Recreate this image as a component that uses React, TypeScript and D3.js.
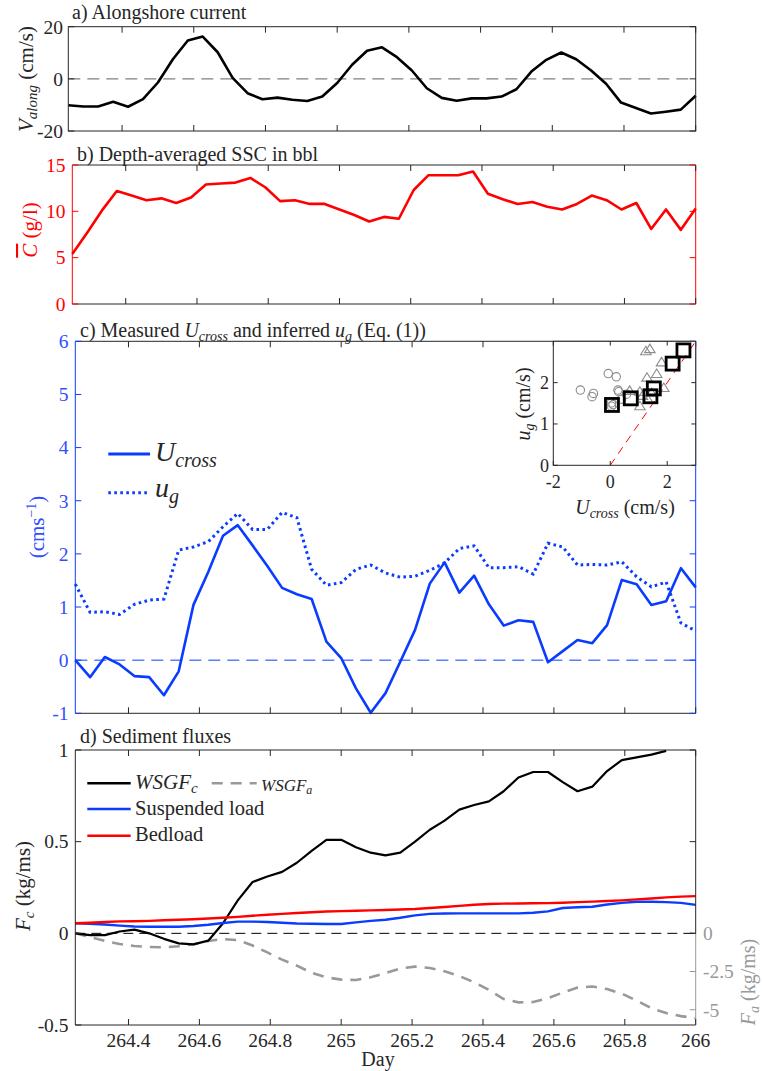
import React from 'react';
import * as d3 from 'd3';

const FONT = "'Liberation Serif', 'Times New Roman', serif";
const AX = '#262626';
const BLUE = '#0a3cff';
const BLUE_TXT = '#2f4fff';
const RED = '#ff0000';
const GRAY = '#999999';

// hourly samples from day 264.25
const hours = d3.range(43);
const days = hours.map((h) => 264.25 + h / 24);
const dayTicks = [264.4, 264.6, 264.8, 265, 265.2, 265.4, 265.6, 265.8, 266];
const dayTickLabels = ['264.4', '264.6', '264.8', '265', '265.2', '265.4', '265.6', '265.8', '266'];

// a) alongshore current (cm/s)
const vAlong = [-10.1, -10.6, -10.6, -8.8, -10.7, -7.8, -1.4, 7.5, 14.7, 16.2, 10.2, 0.4, -5.5, -7.8, -7.2, -8.0, -8.5, -6.8, -1.6, 5.4, 10.8, 12.1, 8.3, 3.2, -3.6, -7.3, -8.4, -7.5, -7.5, -6.8, -4.0, 2.8, 7.3, 10.1, 7.5, 3.2, -1.9, -9.1, -11.2, -13.3, -12.6, -11.8, -6.5];
const aTicks = [-20, 0, 20];

// b) depth-averaged SSC (g/l)
const ssc = [5.4, 7.7, 10.1, 12.2, 11.7, 11.2, 11.4, 10.9, 11.5, 12.9, 13.0, 13.1, 13.6, 12.6, 11.1, 11.2, 10.8, 10.8, 10.2, 9.6, 8.9, 9.4, 9.2, 12.3, 13.9, 13.9, 13.9, 14.3, 11.9, 11.3, 10.8, 11.0, 10.5, 10.2, 10.8, 11.7, 11.2, 10.2, 10.9, 8.1, 10.2, 8.0, 10.3];
const bTicks = [0, 5, 10, 15];

// c) U_cross and u_g (cm/s)
const uCross = [0, -0.32, 0.06, -0.08, -0.3, -0.32, -0.66, -0.21, 1.04, 1.66, 2.34, 2.54, 2.16, 1.77, 1.36, 1.24, 1.15, 0.35, 0.04, -0.53, -0.99, -0.62, -0.03, 0.57, 1.44, 1.84, 1.27, 1.59, 1.05, 0.65, 0.75, 0.72, -0.04, 0.17, 0.38, 0.32, 0.66, 1.51, 1.43, 1.04, 1.11, 1.73, 1.37];
const uG = [1.43, 0.9, 0.91, 0.86, 1.05, 1.13, 1.15, 2.07, 2.13, 2.23, 2.51, 2.76, 2.46, 2.46, 2.78, 2.68, 1.71, 1.41, 1.46, 1.71, 1.79, 1.64, 1.56, 1.58, 1.69, 1.83, 2.10, 2.15, 1.74, 1.74, 1.76, 1.62, 2.2, 2.13, 1.79, 1.8, 1.79, 1.85, 1.57, 1.38, 1.47, 0.70, 0.55];
const cTicks = [-1, 0, 1, 2, 3, 4, 5, 6];

// inset scatter
const sqU = [0.06, 0.72, 1.41, 1.53, 2.19, 2.57];
const sqUg = [1.46, 1.62, 1.67, 1.86, 2.46, 2.78];
const ciU = [-1.05, -0.59, -0.64, -0.07, 0.21, 0.27, 0.04, 0.04, 0.39, 0.57, 0.1, 0.3];
const ciUg = [1.82, 1.74, 1.66, 2.22, 2.14, 1.82, 1.51, 1.43, 1.6, 1.72, 1.47, 1.78];
const trU = [1.25, 1.39, 1.8, 1.63, 1.29, 1.88, 1.04, 1.13, 1.33, 1.04, 0.68, 1.45];
const trUg = [2.76, 2.81, 2.49, 2.21, 2.12, 1.87, 1.78, 1.68, 1.58, 1.43, 1.8, 1.75];
const insetXTicks = [-2, 0, 2];
const insetYTicks = [0, 1, 2];

// d) sediment fluxes (kg/ms)
const wsgfC = [0, -0.01, -0.01, 0.01, 0.02, 0, -0.03, -0.055, -0.06, -0.04, 0.055, 0.18, 0.28, 0.31, 0.335, 0.385, 0.45, 0.51, 0.51, 0.47, 0.44, 0.425, 0.44, 0.5, 0.565, 0.615, 0.675, 0.70, 0.72, 0.775, 0.85, 0.88, 0.88, 0.825, 0.775, 0.80, 0.885, 0.945, 0.96, 0.975, 0.995];
const suspended = [0.055, 0.052, 0.048, 0.042, 0.037, 0.036, 0.036, 0.036, 0.040, 0.047, 0.056, 0.064, 0.064, 0.062, 0.058, 0.054, 0.052, 0.051, 0.051, 0.06, 0.068, 0.074, 0.085, 0.098, 0.106, 0.108, 0.109, 0.109, 0.109, 0.109, 0.109, 0.112, 0.12, 0.138, 0.142, 0.145, 0.157, 0.166, 0.172, 0.172, 0.170, 0.166, 0.155];
const bedload = [0.055, 0.058, 0.062, 0.065, 0.066, 0.068, 0.071, 0.074, 0.077, 0.081, 0.085, 0.090, 0.096, 0.101, 0.106, 0.111, 0.115, 0.119, 0.121, 0.123, 0.125, 0.127, 0.130, 0.133, 0.138, 0.144, 0.150, 0.156, 0.160, 0.162, 0.163, 0.164, 0.165, 0.167, 0.170, 0.173, 0.176, 0.180, 0.185, 0.19, 0.196, 0.200, 0.203];
const wsgfA = [0, -0.25, -0.5, -0.7, -0.83, -0.9, -0.92, -0.85, -0.72, -0.5, -0.38, -0.45, -0.8, -1.25, -1.72, -2.12, -2.58, -2.88, -3.03, -3.06, -2.88, -2.6, -2.3, -2.18, -2.27, -2.48, -2.8, -3.2, -3.7, -4.3, -4.52, -4.5, -4.25, -3.88, -3.55, -3.48, -3.65, -3.95, -4.4, -4.9, -5.22, -5.42, -5.55];
const dTicks = [-0.5, 0, 0.5, 1];
const dTickLabels = ['-0.5', '0', '0.5', '1'];
const dRightTicks = [-5, -2.5, 0];
const dRightTickLabels = ['-5', '-2.5', '0'];

type Scale = d3.ScaleLinear<number, number>;

const mkLine = (x: Scale, y: Scale, vals: number[]) =>
  d3.line<number>().x((_, i) => x(days[i])).y((v) => y(v))(vals) || '';

const XTicks = ({ x, top, bottom }: { x: Scale; top: number; bottom: number }) => (
  <g>
    {dayTicks.map((t) => (
      <g key={t}>
        <line x1={x(t)} x2={x(t)} y1={bottom} y2={bottom - 6} stroke={AX} strokeWidth={1} />
        <line x1={x(t)} x2={x(t)} y1={top} y2={top + 6} stroke={AX} strokeWidth={1} />
      </g>
    ))}
  </g>
);

const App = () => {
  const xDom = [264.25, 266];
  const R = 695.7;

  const xA = d3.scaleLinear().domain(xDom).range([68.3, R]);
  const yA = d3.scaleLinear().domain([-20, 20]).range([131, 26.7]);

  const xB = d3.scaleLinear().domain(xDom).range([72.3, R]);
  const yB = d3.scaleLinear().domain([0, 15]).range([304, 165]);

  const xC = d3.scaleLinear().domain(xDom).range([75.3, R]);
  const yC = d3.scaleLinear().domain([-1, 6]).range([713.3, 341.3]);

  const xI = d3.scaleLinear().domain([-2, 3]).range([553.3, R]);
  const yI = d3.scaleLinear().domain([0, 3]).range([465.3, 341.3]);

  const xD = d3.scaleLinear().domain(xDom).range([75.3, R]);
  const yD = d3.scaleLinear().domain([-0.5, 1]).range([1025, 750]);
  const yDR = d3.scaleLinear().domain([-6, 0]).range([1025, 933.3]);

  const tickFs = 19.5;
  const titleFs = 20;

  return (
    <svg
      width={762}
      height={1071}
      style={{ position: 'absolute', left: 0, top: 0, background: '#fff' }}
      fontFamily={FONT}
    >
      <rect x={0} y={0} width={762} height={1071} fill="#fff" />

      {/* ---------- Panel a ---------- */}
      <g>
        <line x1={xA(264.25)} x2={R} y1={yA(0)} y2={yA(0)} stroke="#808080" strokeWidth={1.3} strokeDasharray="12,7" />
        <path d={mkLine(xA, yA, vAlong)} fill="none" stroke="#000" strokeWidth={2.6} strokeLinejoin="round" />
        <rect x={68.3} y={26.7} width={R - 68.3} height={131 - 26.7} fill="none" stroke={AX} strokeWidth={1} />
        <XTicks x={xA} top={26.7} bottom={131} />
        {aTicks.map((t) => (
          <g key={t}>
            <line x1={68.3} x2={74.3} y1={yA(t)} y2={yA(t)} stroke={AX} />
            <line x1={R} x2={R - 6} y1={yA(t)} y2={yA(t)} stroke={AX} />
            <text x={63} y={yA(t)} dy="0.35em" textAnchor="end" fontSize={tickFs} fill={AX}>{t}</text>
          </g>
        ))}
        <text x={72} y={19} fontSize={titleFs} fill={AX}>a) Alongshore current</text>
        <text transform="translate(33,79) rotate(-90)" textAnchor="middle" fontSize={21} fill={AX}>
          <tspan fontStyle="italic">V</tspan>
          <tspan fontStyle="italic" fontSize={15} baselineShift="-4">along</tspan>
          <tspan> (cm/s)</tspan>
        </text>
      </g>

      {/* ---------- Panel b ---------- */}
      <g>
        <path d={mkLine(xB, yB, ssc)} fill="none" stroke={RED} strokeWidth={2.6} strokeLinejoin="round" />
        <line x1={72.3} x2={R} y1={165} y2={165} stroke={AX} />
        <line x1={72.3} x2={R} y1={304} y2={304} stroke={AX} />
        <line x1={72.3} x2={72.3} y1={165} y2={304} stroke={RED} />
        <line x1={R} x2={R} y1={165} y2={304} stroke={RED} />
        <XTicks x={xB} top={165} bottom={304} />
        {bTicks.map((t) => (
          <g key={t}>
            <line x1={72.3} x2={78.3} y1={yB(t)} y2={yB(t)} stroke={RED} />
            <line x1={R} x2={R - 6} y1={yB(t)} y2={yB(t)} stroke={RED} />
            <text x={65.5} y={yB(t)} dy="0.35em" textAnchor="end" fontSize={tickFs} fill={RED}>{t}</text>
          </g>
        ))}
        <text x={77} y={160.5} fontSize={titleFs} fill={AX}>b) Depth-averaged SSC in bbl</text>
        <text transform="translate(37,230) rotate(-90)" textAnchor="middle" fontSize={21} fill={RED}>
          <tspan fontStyle="italic" textDecoration="overline">C</tspan>
          <tspan> (g/l)</tspan>
        </text>
      </g>

      {/* ---------- Panel c ---------- */}
      <g>
        <line x1={75.3} x2={R} y1={yC(0)} y2={yC(0)} stroke={BLUE} strokeWidth={1} strokeDasharray="12,7" />
        <path d={mkLine(xC, yC, uG)} fill="none" stroke={BLUE} strokeWidth={3} strokeDasharray="2.6,3.4" />
        <path d={mkLine(xC, yC, uCross)} fill="none" stroke={BLUE} strokeWidth={2.6} strokeLinejoin="round" />
        <line x1={75.3} x2={R} y1={341.3} y2={341.3} stroke={AX} />
        <line x1={75.3} x2={R} y1={713.3} y2={713.3} stroke={AX} />
        <line x1={75.3} x2={75.3} y1={341.3} y2={713.3} stroke={BLUE} />
        <line x1={R} x2={R} y1={341.3} y2={713.3} stroke={BLUE} />
        <XTicks x={xC} top={341.3} bottom={713.3} />
        {cTicks.map((t) => (
          <g key={t}>
            <line x1={75.3} x2={81.3} y1={yC(t)} y2={yC(t)} stroke={BLUE} />
            <line x1={R} x2={R - 6} y1={yC(t)} y2={yC(t)} stroke={BLUE} />
            <text x={68.5} y={yC(t)} dy="0.35em" textAnchor="end" fontSize={tickFs} fill={BLUE_TXT}>{t}</text>
          </g>
        ))}
        <text x={80} y={336.5} fontSize={titleFs} fill={AX}>
          <tspan>c) Measured </tspan>
          <tspan fontStyle="italic">U</tspan>
          <tspan fontStyle="italic" fontSize={14} baselineShift="-4">cross</tspan>
          <tspan> and inferred </tspan>
          <tspan fontStyle="italic">u</tspan>
          <tspan fontStyle="italic" fontSize={14} baselineShift="-4">g</tspan>
          <tspan> (Eq. (1))</tspan>
        </text>
        <text transform="translate(44,527) rotate(-90)" textAnchor="middle" fontSize={21} fill={BLUE_TXT}>
          <tspan>(cms</tspan>
          <tspan fontSize={14} baselineShift="8">−1</tspan>
          <tspan>)</tspan>
        </text>

        {/* legend */}
        <line x1={108.3} x2={150} y1={454} y2={454} stroke={BLUE} strokeWidth={3} />
        <text x={155} y={461} fontSize={28} fill={AX}>
          <tspan fontStyle="italic">U</tspan>
          <tspan fontStyle="italic" fontSize={20} baselineShift="-6">cross</tspan>
        </text>
        <line x1={108.3} x2={150} y1={492.7} y2={492.7} stroke={BLUE} strokeWidth={3} strokeDasharray="2.6,3.4" />
        <text x={155} y={497} fontSize={28} fill={AX}>
          <tspan fontStyle="italic">u</tspan>
          <tspan fontStyle="italic" fontSize={20} baselineShift="-6">g</tspan>
        </text>

        {/* inset */}
        <rect x={553.3} y={341.3} width={R - 553.3} height={465.3 - 341.3} fill="#fff" />
        <clipPath id="insetClip">
          <rect x={553.3} y={341.3} width={R - 553.3} height={465.3 - 341.3} />
        </clipPath>
        <g clipPath="url(#insetClip)">
          <line x1={xI(0)} y1={yI(0)} x2={xI(3)} y2={yI(3)} stroke={RED} strokeWidth={1} strokeDasharray="8,6" />
          {ciU.map((u, i) => (
            <circle key={'c' + i} cx={xI(u)} cy={yI(ciUg[i])} r={4.2} fill="none" stroke="#8c8c8c" strokeWidth={1.1} />
          ))}
          {trU.map((u, i) => {
            const cx = xI(u);
            const cy = yI(trUg[i]);
            const s = 5;
            return (
              <path
                key={'t' + i}
                d={`M${cx},${cy - s} L${cx + s * 1.05},${cy + s * 0.7} L${cx - s * 1.05},${cy + s * 0.7} Z`}
                fill="none"
                stroke="#8c8c8c"
                strokeWidth={1.1}
              />
            );
          })}
          {sqU.map((u, i) => (
            <rect key={'s' + i} x={xI(u) - 6.5} y={yI(sqUg[i]) - 6.5} width={13} height={13} fill="none" stroke="#000" strokeWidth={2.8} />
          ))}
        </g>
        <rect x={553.3} y={341.3} width={R - 553.3} height={465.3 - 341.3} fill="none" stroke={AX} strokeWidth={1} />
        {insetXTicks.map((t) => (
          <g key={t}>
            <line x1={xI(t)} x2={xI(t)} y1={465.3} y2={461} stroke={AX} />
            <line x1={xI(t)} x2={xI(t)} y1={341.3} y2={345.6} stroke={AX} />
            <text x={xI(t)} y={488} textAnchor="middle" fontSize={18} fill={AX}>{t}</text>
          </g>
        ))}
        {insetYTicks.map((t) => (
          <g key={t}>
            <line x1={553.3} x2={557.6} y1={yI(t)} y2={yI(t)} stroke={AX} />
            <line x1={R} x2={R - 4.3} y1={yI(t)} y2={yI(t)} stroke={AX} />
            <text x={549} y={yI(t)} dy="0.35em" textAnchor="end" fontSize={18} fill={AX}>{t}</text>
          </g>
        ))}
        <text transform="translate(530,404) rotate(-90)" textAnchor="middle" fontSize={20} fill={AX}>
          <tspan fontStyle="italic">u</tspan>
          <tspan fontStyle="italic" fontSize={14} baselineShift="-4">g</tspan>
          <tspan> (cm/s)</tspan>
        </text>
        <text x={625} y={514} textAnchor="middle" fontSize={20} fill={AX}>
          <tspan fontStyle="italic">U</tspan>
          <tspan fontStyle="italic" fontSize={14} baselineShift="-4">cross</tspan>
          <tspan> (cm/s)</tspan>
        </text>
      </g>

      {/* ---------- Panel d ---------- */}
      <g>
        <line x1={75.3} x2={R} y1={yD(0)} y2={yD(0)} stroke="#000" strokeWidth={1} strokeDasharray="10,6" />
        <path d={mkLine(xD, yDR, wsgfA)} fill="none" stroke={GRAY} strokeWidth={2.6} strokeDasharray="11,8" />
        <path d={mkLine(xD, yD, wsgfC)} fill="none" stroke="#000" strokeWidth={2.2} strokeLinejoin="round" />
        <path d={mkLine(xD, yD, suspended)} fill="none" stroke={BLUE} strokeWidth={2.4} strokeLinejoin="round" />
        <path d={mkLine(xD, yD, bedload)} fill="none" stroke={RED} strokeWidth={2.4} strokeLinejoin="round" />
        <line x1={75.3} x2={R} y1={750} y2={750} stroke={AX} />
        <line x1={75.3} x2={R} y1={1025} y2={1025} stroke={AX} />
        <line x1={75.3} x2={75.3} y1={750} y2={1025} stroke={AX} />
        <line x1={R} x2={R} y1={750} y2={yD(0)} stroke={AX} />
        <line x1={R} x2={R} y1={yD(0)} y2={1025} stroke={GRAY} />
        <XTicks x={xD} top={750} bottom={1025} />
        {dTicks.map((t, i) => (
          <g key={t}>
            <line x1={75.3} x2={81.3} y1={yD(t)} y2={yD(t)} stroke={AX} />
            {t >= 0 ? <line x1={R} x2={R - 6} y1={yD(t)} y2={yD(t)} stroke={AX} /> : null}
            <text x={68.5} y={yD(t)} dy="0.35em" textAnchor="end" fontSize={tickFs} fill={AX}>{dTickLabels[i]}</text>
          </g>
        ))}
        {dRightTicks.map((t, i) => (
          <g key={t}>
            <line x1={R} x2={R - 6} y1={yDR(t)} y2={yDR(t)} stroke={t === 0 ? AX : GRAY} />
            <text x={703} y={yDR(t)} dy="0.35em" textAnchor="start" fontSize={tickFs} fill={GRAY}>{dRightTickLabels[i]}</text>
          </g>
        ))}
        {dayTicks.map((t, i) => (
          <text key={t} x={xD(t)} y={1047} textAnchor="middle" fontSize={tickFs} fill={AX}>{dayTickLabels[i]}</text>
        ))}
        <text x={378} y={1066} textAnchor="middle" fontSize={titleFs} fill={AX}>Day</text>
        <text x={80} y={743} fontSize={titleFs} fill={AX}>d) Sediment fluxes</text>
        <text transform="translate(30,886) rotate(-90)" textAnchor="middle" fontSize={21} fill={AX}>
          <tspan fontStyle="italic">F</tspan>
          <tspan fontStyle="italic" fontSize={15} baselineShift="-4">c</tspan>
          <tspan> (kg/ms)</tspan>
        </text>
        <text transform="translate(755,982) rotate(-90)" textAnchor="middle" fontSize={20} fill={GRAY}>
          <tspan fontStyle="italic">F</tspan>
          <tspan fontStyle="italic" fontSize={14} baselineShift="-4">a</tspan>
          <tspan> (kg/ms)</tspan>
        </text>

        {/* legend */}
        <line x1={87.3} x2={130.7} y1={783.3} y2={783.3} stroke="#000" strokeWidth={2.4} />
        <text x={135} y={789} fontSize={21} fill={AX}>
          <tspan fontStyle="italic">WSGF</tspan>
          <tspan fontStyle="italic" fontSize={15} baselineShift="-4">c</tspan>
        </text>
        <line x1={211.7} x2={256.7} y1={783.3} y2={783.3} stroke={GRAY} strokeWidth={2.6} strokeDasharray="11,8" />
        <text x={261} y={791} fontSize={17} fill={AX}>
          <tspan fontStyle="italic">WSGF</tspan>
          <tspan fontStyle="italic" fontSize={12} baselineShift="-3">a</tspan>
        </text>
        <line x1={87.3} x2={130.7} y1={809} y2={809} stroke={BLUE} strokeWidth={2.6} />
        <text x={135} y={815} fontSize={20.5} fill={AX}>Suspended load</text>
        <line x1={87.3} x2={130.7} y1={835.7} y2={835.7} stroke={RED} strokeWidth={2.6} />
        <text x={135} y={841} fontSize={20.5} fill={AX}>Bedload</text>
      </g>
    </svg>
  );
};

export default App;
